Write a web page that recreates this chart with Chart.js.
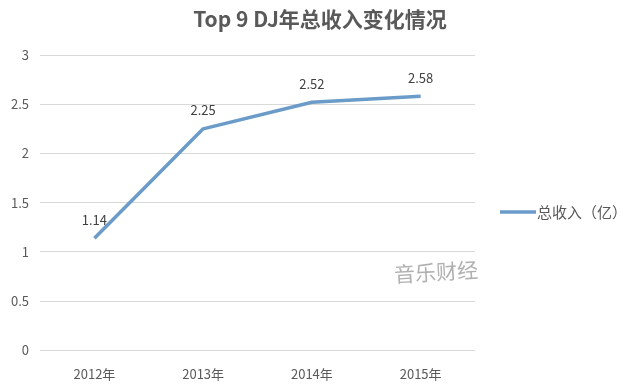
<!DOCTYPE html>
<html>
<head>
<meta charset="utf-8">
<script src="https://cdn.jsdelivr.net/npm/chart.js@4"></script>
<style>
  html, body { margin: 0; padding: 0; background: #fff; }
  #wrap { width: 640px; height: 392px; }
</style>
</head>
<body>
<div id="wrap"><canvas id="lineChart"></canvas></div>
<script>
const years = ['2012年', '2013年', '2014年', '2015年'];
const income = [1.14, 2.25, 2.52, 2.58];
const yTicks = [0, 0.5, 1, 1.5, 2, 2.5, 3];
const seriesName = '总收入（亿）';
const chartTitle = 'Top 9 DJ年总收入变化情况';

const FONT = "'Noto Sans CJK SC', 'Open Sans', sans-serif";
const LINE_COLOR = '#6b9bc8';

// title, value labels, legend on the right and watermark
const extras = {
  id: 'extras',
  afterDatasetsDraw(chart) {
    const ctx = chart.ctx;
    const meta = chart.getDatasetMeta(0);
    ctx.save();

    // title centred over the whole picture
    ctx.font = 'bold 21px ' + FONT;
    ctx.fillStyle = '#595959';
    ctx.textAlign = 'center';
    ctx.textBaseline = 'middle';
    ctx.fillText(chartTitle, chart.width / 2, 19);

    ctx.font = '13px ' + FONT;
    ctx.fillStyle = '#404040';
    ctx.textBaseline = 'bottom';
    meta.data.forEach((pt, i) => {
      ctx.fillText(income[i].toString(), pt.x, pt.y - 12);
    });

    // legend
    const ly = 212;
    ctx.strokeStyle = LINE_COLOR;
    ctx.lineWidth = 3.5;
    ctx.beginPath();
    ctx.moveTo(500, ly);
    ctx.lineTo(536, ly);
    ctx.stroke();
    ctx.font = '15px ' + FONT;
    ctx.fillStyle = '#595959';
    ctx.textAlign = 'left';
    ctx.textBaseline = 'middle';
    ctx.fillText(seriesName, 537, ly);

    // watermark
    ctx.translate(436, 272);
    ctx.rotate(-0.06);
    ctx.font = '21px ' + FONT;
    ctx.fillStyle = 'rgba(150,150,150,0.75)';
    ctx.textAlign = 'center';
    ctx.fillText('音乐财经', 0, 0);
    ctx.restore();
  }
};

new Chart(document.getElementById('lineChart'), {
  type: 'line',
  data: {
    labels: years,
    datasets: [{
      label: seriesName,
      data: income,
      borderColor: LINE_COLOR,
      backgroundColor: LINE_COLOR,
      borderWidth: 3.5,
      borderJoinStyle: 'round',
      pointRadius: 0,
      tension: 0
    }]
  },
  options: {
    responsive: true,
    maintainAspectRatio: false,
    animation: false,
    layout: { padding: { left: 0, right: 165, top: 55, bottom: 2 } },
    plugins: {
      title: { display: false },
      legend: { display: false },
      tooltip: { enabled: false }
    },
    scales: {
      x: {
        offset: true,
        grid: { display: false },
        border: { display: false },
        ticks: { color: '#595959', font: { family: FONT, size: 13 }, padding: 8 }
      },
      y: {
        min: 0,
        max: 3,
        afterBuildTicks(axis) {
          axis.ticks = yTicks.map(v => ({ value: v }));
        },
        grid: { color: '#d9d9d9', drawTicks: false },
        border: { display: false },
        ticks: {
          color: '#595959',
          font: { family: FONT, size: 13 },
          padding: 11,
          callback: v => String(v)
        }
      }
    }
  },
  plugins: [extras]
});
</script>
</body>
</html>
